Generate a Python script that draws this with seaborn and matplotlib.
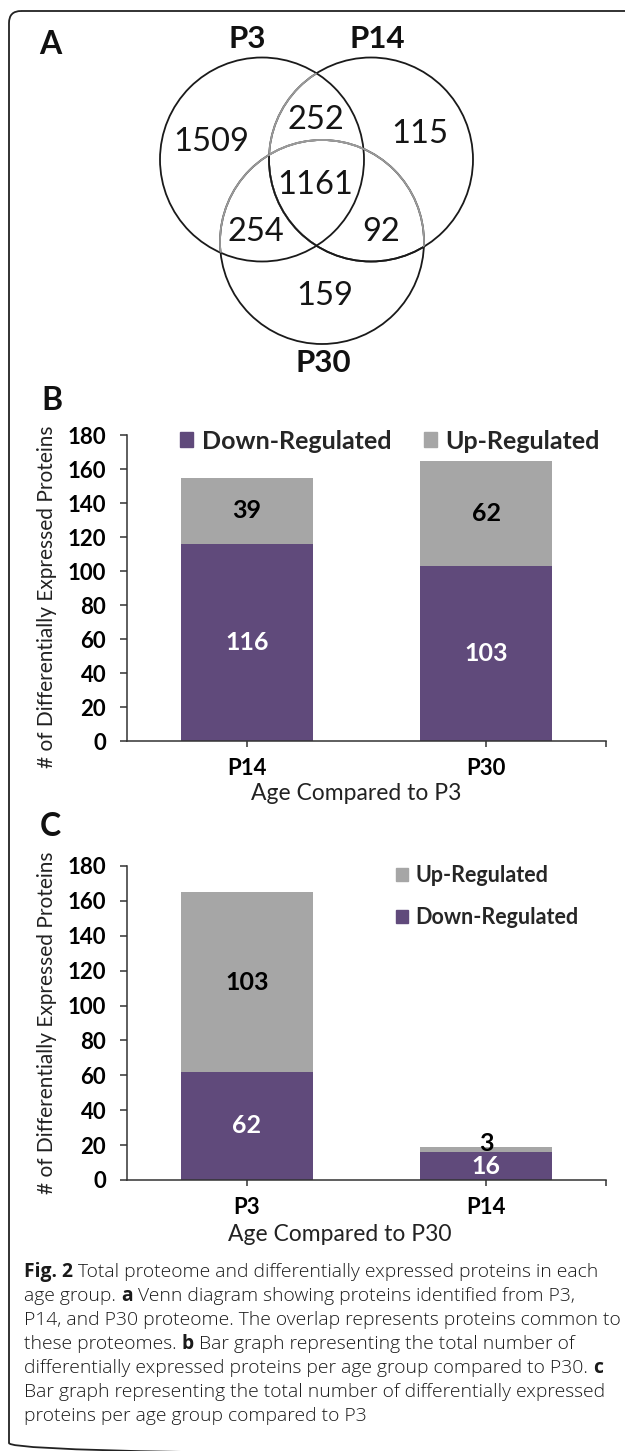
import matplotlib
matplotlib.use('Agg')
import matplotlib.pyplot as plt
import seaborn as sns
import pandas as pd
from matplotlib.patches import Ellipse, Patch, FancyBboxPatch

# panel A - venn counts
venn_sets = ['P3', 'P14', 'P30']
venn_counts = [1509, 252, 115, 1161, 254, 92, 159]  # P3, P3&P14, P14, all, P3&P30, P14&P30, P30

# panel B - compared to P3
b_ages = ['P14', 'P30']
b_down = [116, 103]
b_up = [39, 62]

# panel C - compared to P30
c_ages = ['P3', 'P14']
c_down = [62, 16]
c_up = [103, 3]

caption = [
    [('Fig. 2', 'bold'), ('Total proteome and differentially expressed proteins in each', 'light')],
    [('age group.', 'light'), ('a', 'bold'), ('Venn diagram showing proteins identified from P3,', 'light')],
    [('P14, and P30 proteome. The overlap represents proteins common to', 'light')],
    [('these proteomes.', 'light'), ('b', 'bold'), ('Bar graph representing the total number of', 'light')],
    [('differentially expressed proteins per age group compared to P30.', 'light'), ('c', 'bold')],
    [('Bar graph representing the total number of differentially expressed', 'light')],
    [('proteins per age group compared to P3', 'light')],
]

PURPLE = '#604a7b'
GRAY = '#a6a6a6'
W, H = 625, 1451

sns.set_style('ticks')
plt.rcParams['font.family'] = ['Lato', 'DejaVu Sans']


def px_rect(left, top, right, bottom):
    return [left / W, 1 - bottom / H, (right - left) / W, (bottom - top) / H]


fig = plt.figure(figsize=(W / 100, H / 100), dpi=100)
bg = fig.add_axes([0, 0, 1, 1])
bg.set_xlim(0, W)
bg.set_ylim(H, 0)
bg.axis('off')

# outer rounded frame
bg.add_patch(FancyBboxPatch((9, 11), 700, 1444, boxstyle='round,pad=0,rounding_size=12',
                            fc='none', ec='#222222', lw=1.3))

# ---- panel A: venn ----
centers = [(262, 159.5), (371, 159.5), (322, 242)]
R = 102
ell = [Ellipse(c, 2 * R, 2 * R, transform=bg.transData) for c in centers]


def ring(c, color, clip=None):
    e = Ellipse(c, 2 * R, 2 * R, fc='none', ec=color, lw=1.3)
    bg.add_patch(e)
    if clip is not None:
        e.set_clip_path(clip)


ring(centers[0], '#1a1a1a')
ring(centers[1], '#1a1a1a')
ring(centers[1], '#9a9a9a', ell[0])
ring(centers[1], '#1a1a1a', ell[2])
ring(centers[2], '#1a1a1a')
ring(centers[2], '#9a9a9a', ell[0])
ring(centers[2], '#9a9a9a', ell[1])

set_label_pos = [(247, 39), (377, 39), (323, 363)]
for name, (x, y) in zip(venn_sets, set_label_pos):
    bg.text(x, y, name, fontsize=22.5, fontweight='bold', ha='center', va='center', color='#111111')

count_pos = [(211, 142), (316, 120), (420, 134), (315, 185), (256, 232), (381, 232), (325, 296)]
for n, (x, y) in zip(venn_counts, count_pos):
    bg.text(x, y, str(n), fontsize=23.5, ha='center', va='center', color='#151515')

for letter, (x, y) in zip('ABC', [(50, 44), (52, 400), (50, 827)]):
    bg.text(x, y, letter, fontsize=23, fontweight='bold', ha='center', va='center', color='#111111')


# ---- panels B and C ----
def bar_panel(ax, ages, down, up, xlabel, xlab_xy, ylab_y):
    df = pd.DataFrame({'age': ages, 'down': down, 'up': up})
    df['total'] = df['down'] + df['up']
    sns.barplot(data=df, x='age', y='total', color=GRAY, saturation=1, width=0.55,
                errorbar=None, linewidth=0, ax=ax)
    sns.barplot(data=df, x='age', y='down', color=PURPLE, saturation=1, width=0.55,
                errorbar=None, linewidth=0, ax=ax)

    for i, row in df.iterrows():
        ax.text(i, row['down'] / 2, str(row['down']), color='white', fontsize=18,
                fontweight='bold', ha='center', va='center')
        if row['up'] >= 10:
            y = row['down'] + row['up'] / 2
        else:
            y = row['total'] + 2
        ax.text(i, y, str(row['up']), color='black', fontsize=18,
                fontweight='bold', ha='center', va='center')

    ax.set_xlim(-0.5, 1.5)
    ax.set_ylim(0, 180)
    ax.set_yticks(range(0, 181, 20))
    ax.set_xticks([0, 1])
    ax.set_xticklabels(ages)
    ax.set_xticks([1.5], minor=True)
    ax.tick_params(axis='y', direction='out', length=5, width=1.1, pad=10, labelsize=16,
                   color='#333333', left=True)
    ax.tick_params(axis='x', which='both', direction='out', length=4.5, width=1.1, pad=8,
                   labelsize=16, color='#333333', bottom=True)
    for lab in ax.get_xticklabels() + ax.get_yticklabels():
        lab.set_fontweight('bold')
        lab.set_color('black')
    sns.despine(ax=ax)
    for s in ['left', 'bottom']:
        ax.spines[s].set_color('#333333')
        ax.spines[s].set_linewidth(1.1)

    ax.set_ylabel('# of Differentially Expressed Proteins', fontsize=15, va='center', color='#222222')
    ax.yaxis.set_label_coords(-0.167, ylab_y)
    ax.set_xlabel(xlabel, fontsize=16.5, va='center', color='#222222')
    ax.xaxis.set_label_coords(*xlab_xy)


axB = fig.add_axes(px_rect(127, 435, 606, 741))
bar_panel(axB, b_ages, b_down, b_up, 'Age Compared to P3', (0.478, -0.170), 0.472)
axB.legend(handles=[Patch(color=PURPLE, label='Down-Regulated'), Patch(color=GRAY, label='Up-Regulated')],
           ncol=2, loc='center left', bbox_to_anchor=((180 - 127) / 479, 0.980), frameon=False,
           borderpad=0, borderaxespad=0, handlelength=0.53, handleheight=0.53, handletextpad=0.33,
           columnspacing=1.3, prop={'weight': 'bold', 'size': 18})

axC = fig.add_axes(px_rect(127, 866, 606, 1180))
bar_panel(axC, c_ages, c_down, c_up, 'Age Compared to P30', (0.445, -0.172), 0.500)
axC.legend(handles=[Patch(color=GRAY, label='Up-Regulated'), Patch(color=PURPLE, label='Down-Regulated')],
           loc='center left', bbox_to_anchor=((396 - 127) / 479, 0.903), frameon=False,
           borderpad=0, borderaxespad=0, handlelength=0.56, handleheight=0.56, handletextpad=0.33,
           labelspacing=0.95, prop={'weight': 'bold', 'size': 15.5})

# ---- caption ----
renderer = fig.canvas.get_renderer()
cap_font = {'family': ['Open Sans', 'DejaVu Sans'], 'size': 13.9, 'color': '#1a1a1a'}
t1 = bg.text(0, -50, 'a a', **cap_font)
t2 = bg.text(0, -50, 'aa', **cap_font)
space = t1.get_window_extent(renderer).width - t2.get_window_extent(renderer).width
t1.remove()
t2.remove()

for k, line in enumerate(caption):
    x = 24
    y = 1272 + 24 * k
    for s, wt in line:
        t = bg.text(x, y, s, fontweight=wt, ha='left', va='center', **cap_font)
        x += t.get_window_extent(renderer).width + space

fig.savefig('out.png', dpi=100)
